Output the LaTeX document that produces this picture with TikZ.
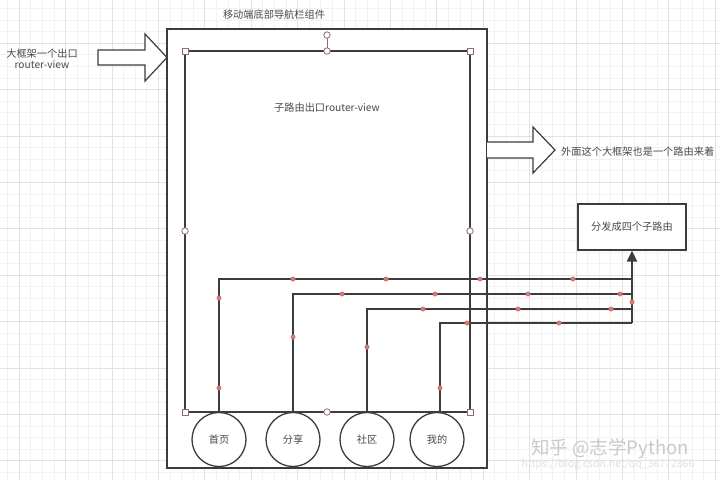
\documentclass[tikz,border=0pt]{standalone}
\usepackage{fontspec}
\setmainfont{Noto Sans CJK SC}
\usetikzlibrary{arrows.meta}
\definecolor{linec}{HTML}{3E3B3B}
\definecolor{txtc}{HTML}{4A4A4A}
\definecolor{dotc}{HTML}{D27A7A}
\definecolor{handc}{HTML}{8E6E6E}
\definecolor{gridminor}{HTML}{F2F2F2}
\definecolor{gridmajor}{HTML}{E2E2E2}
\definecolor{wmc}{HTML}{C9C9C9}
\tikzset{
  lbl/.style={text=txtc, font=\fontsize{10.2}{12}\selectfont, inner sep=0pt},
  tab/.style={circle, draw=linec, line width=1.3pt, fill=white, minimum size=54pt, inner sep=0pt, text=txtc, font=\fontsize{10.2}{12}\selectfont},
  wire/.style={draw=linec, line width=1.8pt},
  blockarrow/.style={draw=linec, fill=white, line width=1.2pt, line join=miter},
  dot/.style={fill=dotc},
  hsq/.style={draw=handc, fill=white, line width=0.8pt},
}
\begin{document}
\begin{tikzpicture}[x=1pt,y=-1pt]
\useasboundingbox (0,0) rectangle (720,480);
\fill[white] (0,0) rectangle (720,480);
% grid
\foreach \i in {0,...,62} {
  \draw[gridminor, line width=0.5pt] ({7.4+11.6*\i},0) -- ({7.4+11.6*\i},480);
}
\foreach \i in {0,...,41} {
  \draw[gridminor, line width=0.5pt] (0,{8.2+11.6*\i}) -- (720,{8.2+11.6*\i});
}
\foreach \i in {0,...,15} {
  \draw[gridmajor, line width=0.6pt] ({19+46.4*\i},0) -- ({19+46.4*\i},480);
}
\foreach \i in {0,...,10} {
  \draw[gridmajor, line width=0.6pt] (0,{-3.4+46.4*\i}) -- (720,{-3.4+46.4*\i});
}

% outer frame
\coordinate (frameTL) at (167,29);
\coordinate (frameBR) at (487,468);
\draw[draw=linec, fill=white, line width=1.4pt] (frameTL) rectangle (frameBR);

% inner router-view rectangle
\coordinate (inTL) at (185,51);
\coordinate (inTR) at (470,51);
\coordinate (inBL) at (185,412);
\coordinate (inBR) at (470,412);
\draw[draw=linec, line width=1.6pt] (inTL) rectangle (inBR);

% titles and labels
\node[lbl] (title) at (274,15) {移动端底部导航栏组件};
\node[lbl, align=center] (outlbl) at (42,59) {大框架一个出口\\[-0.5pt]router-view};
\node[lbl] (sublbl) at (327,108) {子路由出口router-view};
\node[lbl, anchor=west] (rightlbl) at (561,152) {外面这个大框架也是一个路由来着};

% block arrows
\draw[blockarrow] (98,50) -- (145,50) -- (145,34) -- (167,57.5) -- (145,81) -- (145,65) -- (98,65) -- cycle;
\draw[blockarrow] (487,142) -- (533,142) -- (533,127) -- (555,150) -- (533,173) -- (533,158) -- (487,158);

% tab circles
\node[tab] (home) at (219,439.5) {首页};
\node[tab] (share) at (293,439.5) {分享};
\node[tab] (community) at (367,439.5) {社区};
\node[tab] (mine) at (437,439.5) {我的};

% target box
\node[draw=linec, fill=white, line width=1.4pt, minimum width=108pt, minimum height=46pt, inner sep=0pt, text=txtc, font=\fontsize{10.2}{12}\selectfont] (dispatch) at (632,227) {分发成四个子路由};

% junction coordinates
\coordinate (j1) at (632,279);
\coordinate (j2) at (632,294);
\coordinate (j3) at (632,309);
\coordinate (j4) at (632,323);

% wires
\draw[wire] (home.north) |- (j1);
\draw[wire] (share.north) |- (j2);
\draw[wire] (community.north) |- (j3);
\draw[wire] ([xshift=3pt]mine.north) |- (j4);
\draw[draw=linec, line width=2.4pt, -{Triangle[length=11pt,width=10pt]}] (j4) -- (dispatch.south);

% waypoint dots
\foreach \p in {(293,279),(386,279),(480,279),(573,279),(219,298),(219,388),
                (342,294),(435,294),(528,294),(620,294),(293,337),
                (423,309),(518,309),(611,309),(367,347),(632,302),
                (467,323),(559,323),(440,388)} {
  \fill[dot] \p circle (2.5);
}

% selection handles
\foreach \c in {inTL,inTR,inBL,inBR} {
  \draw[hsq] ([xshift=-3pt,yshift=-3pt]\c) rectangle ([xshift=3pt,yshift=3pt]\c);
}
\draw[draw=handc, line width=0.8pt] (327,35) -- (327,51);
\foreach \q in {(327,35),(327,51),(185,231),(470,231),(327,412)} {
  \draw[hsq] \q circle (3.2);
}

% watermark
\node[text=wmc, font=\fontsize{18.5}{20}\selectfont, inner sep=0pt] (wm) at (610,449) {知乎 @志学Python};
\node[text=wmc!55, font=\fontsize{10.5}{12}\selectfont, inner sep=0pt] (wmurl) at (608,465) {https://blog.csdn.net/qq\_36772866};
\end{tikzpicture}
\end{document}
